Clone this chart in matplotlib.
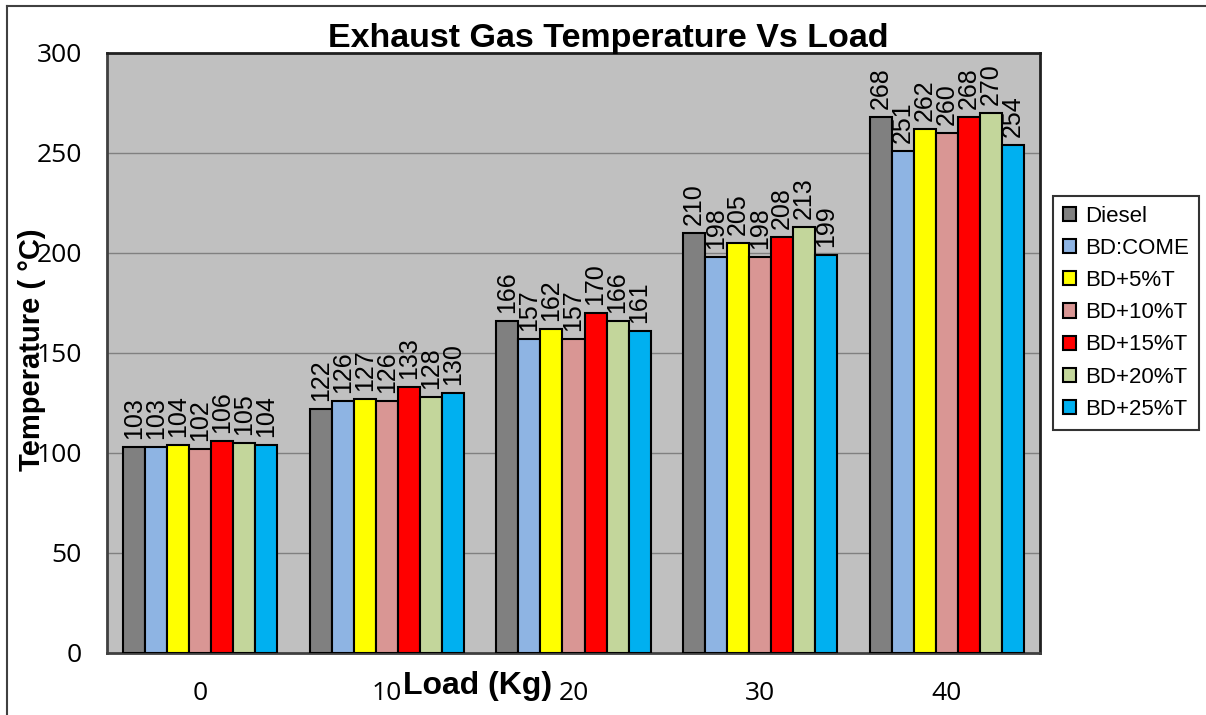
import matplotlib
matplotlib.use("Agg")
import matplotlib.pyplot as plt
from matplotlib.lines import Line2D
import numpy as np

loads = ["0", "10", "20", "30", "40"]
series_names = ["Diesel", "BD:COME", "BD+5%T", "BD+10%T", "BD+15%T", "BD+20%T", "BD+25%T"]
diesel = [103, 122, 166, 210, 268]
bd_come = [103, 126, 157, 198, 251]
bd_5 = [104, 127, 162, 205, 262]
bd_10 = [102, 126, 157, 198, 260]
bd_15 = [106, 133, 170, 208, 268]
bd_20 = [105, 128, 166, 213, 270]
bd_25 = [104, 130, 161, 199, 254]
series_values = [diesel, bd_come, bd_5, bd_10, bd_15, bd_20, bd_25]
colors = ["#808080", "#8EB4E3", "#FFFF00", "#D99694", "#FF0000", "#C3D69B", "#00B0F0"]
yticks = [0, 50, 100, 150, 200, 250, 300]

W, H = 1206, 715
fig = plt.figure(figsize=(W / 100, H / 100), dpi=100)
ax = fig.add_axes([107 / W, 1 - 653 / H, (1040 - 107) / W, (653 - 53) / H])
ax.set_facecolor("#C0C0C0")

x = np.arange(len(loads))
n = len(series_names)
bw = 0.118
for k, (name, vals, c) in enumerate(zip(series_names, series_values, colors)):
    pos = x + (k - (n - 1) / 2) * bw
    ax.bar(pos, vals, width=bw, color=c, edgecolor="black", linewidth=1.5,
           label=name, zorder=3)
    for p, v in zip(pos, vals):
        ax.text(p, v + 4, str(v), rotation=90, ha="center", va="bottom",
                fontsize=18, family="Liberation Sans", zorder=4)

ax.set_xlim(-0.5, len(loads) - 0.5)
ax.set_ylim(0, 300)
ax.set_yticks(yticks)
ax.set_yticklabels([str(t) for t in yticks], fontsize=19, family="Open Sans")
ax.set_xticks(x)
ax.set_xticklabels(loads, fontsize=19, family="Open Sans")
ax.tick_params(axis="y", length=0, pad=18)
ax.tick_params(axis="x", length=0, pad=20)
ax.yaxis.grid(True, color="#808080", linewidth=1, zorder=0)
ax.set_axisbelow(True)
for s in ["left", "bottom"]:
    ax.spines[s].set_color("#404040")
    ax.spines[s].set_linewidth(2)
for s in ["top", "right"]:
    ax.spines[s].set_color("#202020")
    ax.spines[s].set_linewidth(2)

fig.text(608 / W, 1 - 39 / H, "Exhaust Gas Temperature Vs Load", ha="center", va="center",
         fontsize=24.5, fontweight="bold", family="Liberation Sans")
fig.text(478 / W, 1 - 686 / H, "Load (Kg)", ha="center", va="center",
         fontsize=23, fontweight="bold", family="Liberation Sans")
fig.text(32 / W, 1 - 350 / H, "Temperature ( °C)", ha="center", va="center", rotation=90,
         fontsize=21, fontweight="bold", family="Liberation Sans")

leg = fig.legend(loc="upper left", bbox_to_anchor=(1053 / W, 1 - 196 / H),
                 prop={"family": "Liberation Sans", "size": 16}, frameon=True,
                 fancybox=False, edgecolor="black", handlelength=0.6, handleheight=0.6,
                 handletextpad=0.4, labelspacing=0.5, borderpad=0.45, borderaxespad=0)
leg.get_frame().set_linewidth(1.5)

fig.add_artist(Line2D([7 / W, 7 / W], [0, 1 - 6 / H], color="#404040", linewidth=1.5,
                      transform=fig.transFigure))
fig.add_artist(Line2D([7 / W, 1], [1 - 6 / H, 1 - 6 / H], color="#404040", linewidth=1.5,
                      transform=fig.transFigure))

fig.savefig("out.png", dpi=100)
